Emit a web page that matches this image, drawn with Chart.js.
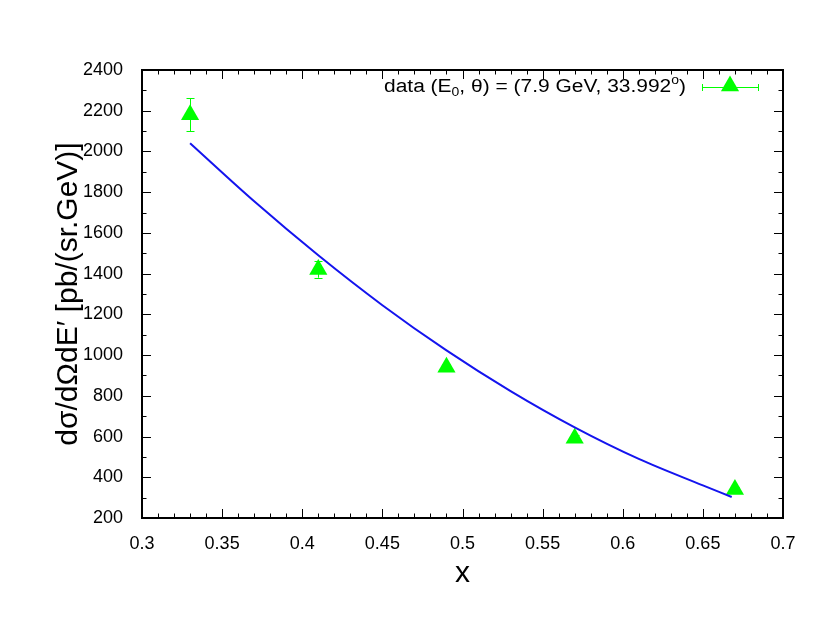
<!DOCTYPE html>
<html>
<head>
<meta charset="utf-8">
<script src="https://cdn.jsdelivr.net/npm/chart.js@4"></script>
<style>
  html, body { margin: 0; padding: 0; background: #fff; }
  #wrap { width: 830px; height: 642px; }
</style>
</head>
<body>
<div id="wrap"><canvas id="myChart" width="830" height="642"></canvas></div>
<script>
// measured points
const xData = [0.33, 0.41, 0.49, 0.57, 0.67];
const yData = [2180, 1420, 940, 592, 340];
const yErr = [82, 40, 18, 14, 12];

// model curve
const xCurve = [0.33, 0.37, 0.41, 0.45, 0.49, 0.53, 0.57, 0.61, 0.65, 0.668];
const yCurve = [2040, 1755, 1490, 1245, 1023, 823, 645, 490, 360, 303];

const xTicks = [0.3, 0.35, 0.4, 0.45, 0.5, 0.55, 0.6, 0.65, 0.7];
const yTicks = [200, 400, 600, 800, 1000, 1200, 1400, 1600, 1800, 2000, 2200, 2400];

const GREEN = '#00ff00';
const BLUE = '#1414ee';
const FONT = '"Liberation Sans", Arial, sans-serif';

// error bars behind the triangles
const errorBars = {
  id: 'errorBars',
  beforeDatasetsDraw(chart) {
    const c = chart.ctx, xs = chart.scales.x, ys = chart.scales.y;
    c.save();
    c.strokeStyle = GREEN;
    c.lineWidth = 1;
    xData.forEach((x, i) => {
      const px = Math.round(xs.getPixelForValue(x)) + 0.5;
      const lo = ys.getPixelForValue(yData[i] - yErr[i]);
      const hi = ys.getPixelForValue(yData[i] + yErr[i]);
      c.beginPath();
      c.moveTo(px, lo); c.lineTo(px, hi);
      c.moveTo(px - 4, Math.round(lo) + 0.5); c.lineTo(px + 4, Math.round(lo) + 0.5);
      c.moveTo(px - 4, Math.round(hi) + 0.5); c.lineTo(px + 4, Math.round(hi) + 0.5);
      c.stroke();
    });
    c.restore();
  }
};

// gnuplot style frame, inward ticks on all sides, and the key
const frame = {
  id: 'frame',
  afterDraw(chart) {
    const c = chart.ctx, a = chart.chartArea, xs = chart.scales.x, ys = chart.scales.y;
    c.save();
    c.strokeStyle = '#000';
    c.lineWidth = 1;
    c.beginPath();
    for (let v = 30; v <= 70; v++) {
      const px = Math.round(xs.getPixelForValue(v / 100)) + 0.5;
      const len = v % 5 === 0 ? 9 : 4.5;
      c.moveTo(px, a.bottom); c.lineTo(px, a.bottom - len);
      c.moveTo(px, a.top); c.lineTo(px, a.top + len);
    }
    for (let v = 200; v <= 2400; v += 100) {
      const py = Math.round(ys.getPixelForValue(v)) + 0.5;
      const len = v % 200 === 0 ? 9 : 4.5;
      c.moveTo(a.left, py); c.lineTo(a.left + len, py);
      c.moveTo(a.right, py); c.lineTo(a.right - len, py);
    }
    c.stroke();
    c.lineWidth = 2;
    c.strokeRect(a.left, a.top, a.right - a.left, a.bottom - a.top);

    // key text, right aligned, stretched a little like the original
    const parts = [
      ['data (E', 0], ['0', 1], [', \u03b8) = (7.9 GeV, 33.992', 0], ['o', -1], [')', 0]
    ];
    const big = '18px ' + FONT, small = '12px ' + FONT;
    let total = 0;
    parts.forEach(p => { c.font = p[1] ? small : big; total += c.measureText(p[0]).width; });
    const sx = 302 / total;
    c.translate(686 - 302, 92);
    c.scale(sx, 1);
    let tx = 0;
    c.fillStyle = '#000';
    c.textBaseline = 'alphabetic';
    c.textAlign = 'left';
    parts.forEach(p => {
      c.font = p[1] ? small : big;
      const dy = p[1] === 1 ? 4 : (p[1] === -1 ? -8 : 0);
      c.fillText(p[0], tx, dy);
      tx += c.measureText(p[0]).width;
    });
    c.setTransform(1, 0, 0, 1, 0, 0);
    // key sample
    c.strokeStyle = GREEN;
    c.lineWidth = 1;
    c.beginPath();
    c.moveTo(702, 87.5); c.lineTo(759, 87.5);
    c.moveTo(702.5, 84); c.lineTo(702.5, 91);
    c.moveTo(758.5, 84); c.lineTo(758.5, 91);
    c.stroke();
    c.fillStyle = GREEN;
    const r = 10.5, cx = 730, cy = 86;
    c.beginPath();
    c.moveTo(cx, cy - r);
    c.lineTo(cx + r * Math.sin(Math.PI / 3), cy + r / 2);
    c.lineTo(cx - r * Math.sin(Math.PI / 3), cy + r / 2);
    c.closePath();
    c.fill();
    c.restore();
  }
};

const ctx = document.getElementById('myChart');
new Chart(ctx, {
  data: {
    datasets: [
      {
        type: 'line',
        data: xCurve.map((x, i) => ({ x: x, y: yCurve[i] })),
        borderColor: BLUE,
        borderWidth: 2,
        pointRadius: 0,
        cubicInterpolationMode: 'monotone',
        fill: false
      },
      {
        type: 'scatter',
        data: xData.map((x, i) => ({ x: x, y: yData[i] })),
        pointStyle: 'triangle',
        pointRadius: 10.5,
        backgroundColor: GREEN,
        borderColor: GREEN,
        borderWidth: 0
      }
    ]
  },
  options: {
    responsive: false,
    animation: false,
    layout: { padding: { left: 0, top: 70, right: 47, bottom: 0 } },
    plugins: { legend: { display: false }, tooltip: { enabled: false } },
    scales: {
      x: {
        type: 'linear',
        min: 0.3,
        max: 0.7,
        grid: { display: false },
        border: { display: false },
        afterBuildTicks: s => { s.ticks = xTicks.map(v => ({ value: v })); },
        afterFit: s => { s.height = 124; },
        ticks: {
          color: '#000',
          padding: 7,
          maxRotation: 0,
          font: { family: FONT, size: 18 },
          callback: v => String(+v.toFixed(2))
        },
        title: {
          display: true,
          text: 'x',
          color: '#000',
          font: { family: FONT, size: 30 },
          padding: { top: 0, bottom: 50 }
        }
      },
      y: {
        type: 'linear',
        min: 200,
        max: 2400,
        grid: { display: false },
        border: { display: false },
        afterBuildTicks: s => { s.ticks = yTicks.map(v => ({ value: v })); },
        afterFit: s => { s.width = 142; },
        ticks: {
          color: '#000',
          padding: 11,
          font: { family: FONT, size: 18 },
          callback: v => String(v)
        },
        title: {
          display: true,
          text: 'd\u03c3/d\u03a9dE\u2032 [pb/(sr.GeV)]',
          color: '#000',
          font: { family: FONT, size: 30 },
          padding: { top: 51, bottom: 0 }
        }
      }
    }
  },
  plugins: [errorBars, frame]
});
</script>
</body>
</html>
